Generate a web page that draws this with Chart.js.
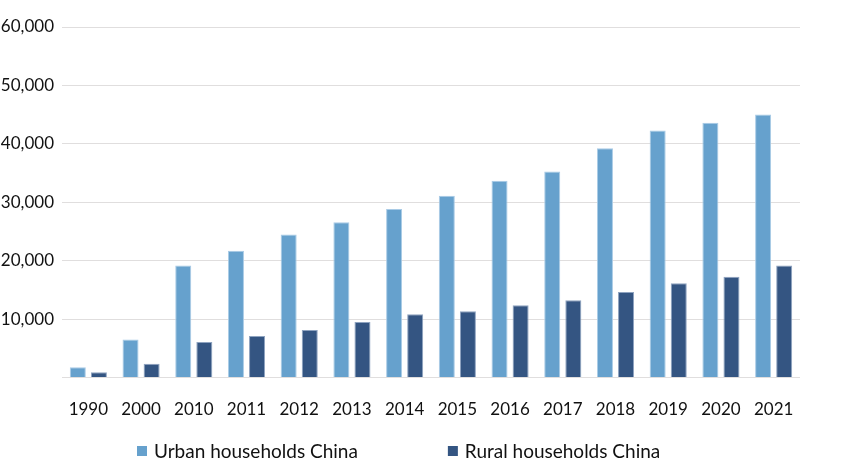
<!DOCTYPE html>
<html>
<head>
<meta charset="utf-8">
<script src="https://cdn.jsdelivr.net/npm/chart.js@4"></script>
<style>
  html, body { margin: 0; padding: 0; background: #fff; }
  #wrap { width: 850px; height: 472px; }
</style>
</head>
<body>
<div id="wrap"><canvas id="incomeChart"></canvas></div>
<script>
// Data
const years = ['1990', '2000', '2010', '2011', '2012', '2013', '2014', '2015', '2016', '2017', '2018', '2019', '2020', '2021'];
const urbanValues = [1790, 6540, 19170, 21690, 24510, 26570, 28860, 31100, 33680, 35290, 39240, 42290, 43610, 45040];
const ruralValues = [930, 2360, 6090, 7120, 8150, 9530, 10840, 11360, 12390, 13250, 14630, 16130, 17280, 19170];
const yTicks = [10000, 20000, 30000, 40000, 50000, 60000];

const FONT = 'Lato, "Open Sans", sans-serif';

// legend drawn under the axis, spaced wide like the original
const bottomLegend = {
    id: 'bottomLegend',
    afterDraw(chart) {
        const ctx = chart.ctx;
        const y = 451;
        let x = 137;
        ctx.save();
        ctx.font = '19px ' + FONT;
        ctx.textBaseline = 'middle';
        ctx.textAlign = 'left';
        chart.data.datasets.forEach((ds) => {
            ctx.fillStyle = ds.backgroundColor;
            ctx.fillRect(x, y - 5, 10, 10);
            x += 17;
            ctx.fillStyle = '#111';
            ctx.fillText(ds.label, x, y + 1);
            x += ctx.measureText(ds.label).width + 90;
        });
        ctx.restore();
    }
};

new Chart(document.getElementById('incomeChart'), {
    type: 'bar',
    data: {
        labels: years,
        datasets: [
            {
                label: 'Urban households China',
                data: urbanValues,
                backgroundColor: '#66a1cd',
                borderColor: '#a9cbe6',
                borderWidth: 1
            },
            {
                label: 'Rural households China',
                data: ruralValues,
                backgroundColor: '#345582',
                borderColor: '#8ea3c0',
                borderWidth: 1
            }
        ]
    },
    options: {
        responsive: true,
        maintainAspectRatio: false,
        animation: false,
        layout: { padding: { top: 27, right: 50, bottom: 38, left: 0 } },
        datasets: {
            bar: { categoryPercentage: 0.8, barPercentage: 0.76 }
        },
        scales: {
            x: {
                grid: { display: false },
                border: { display: false },
                ticks: { color: '#111', font: { family: FONT, size: 17 }, padding: 14 }
            },
            y: {
                min: 0,
                max: 60000,
                afterFit: (scale) => { scale.width = 62; },
                afterBuildTicks: (scale) => {
                    scale.ticks = [0].concat(yTicks).map(v => ({ value: v }));
                },
                grid: { color: '#e0dede', lineWidth: 1, drawTicks: false },
                border: { display: false },
                ticks: {
                    color: '#111',
                    font: { family: FONT, size: 17 },
                    padding: 8,
                    callback: (v) => v === 0 ? '' : v.toLocaleString('en-US')
                }
            }
        },
        plugins: {
            tooltip: { enabled: false },
            legend: { display: false }
        }
    },
    plugins: [bottomLegend]
});
</script>
</body>
</html>
